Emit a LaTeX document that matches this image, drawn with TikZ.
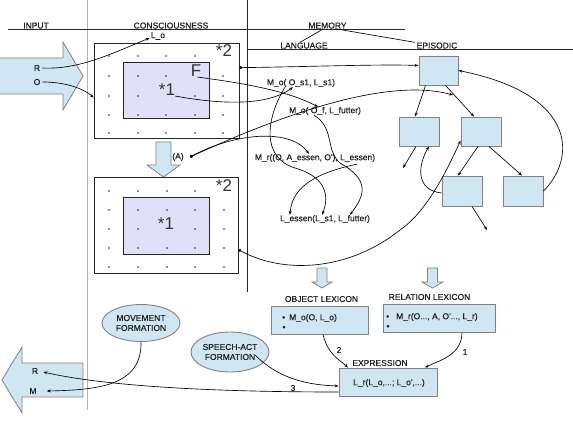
\documentclass[tikz,border=0pt]{standalone}
\usepackage{fontspec}
\setmainfont{Liberation Sans}
\newfontfamily\lblfont[FakeBold=0.35]{Liberation Sans}
\usetikzlibrary{arrows.meta,shapes.geometric}
\definecolor{boxblue}{RGB}{207,230,243}
\definecolor{bordergray}{RGB}{130,130,130}
\definecolor{lav}{RGB}{224,224,250}
\definecolor{txt}{RGB}{30,30,30}
\begin{document}
\begin{tikzpicture}[x=1pt,y=-1pt,
  lbl/.style={font=\lblfont\fontsize{8.5}{9.5}\selectfont,text=txt,inner sep=0pt},
  big/.style={font=\fontsize{17}{18}\selectfont,text=black!80,inner sep=0pt},
  conn/.style={-{Stealth[length=4pt,width=3pt]},line width=0.65pt},
  dconn/.style={{Circle[length=3pt]}-{Stealth[length=4pt,width=3pt]},line width=0.65pt},
  bluebox/.style={draw=bordergray,fill=boxblue,inner sep=0pt,line width=0.9pt},
  epibox/.style={bluebox,minimum width=40pt,minimum height=29pt},
  arrowshape/.style={draw=bordergray,fill=boxblue,line width=0.8pt},
  frame/.style={draw=black!85,line width=0.75pt,inner sep=0pt},
  ell/.style={ellipse,bluebox,font=\lblfont\fontsize{8.5}{10}\selectfont,text=txt,align=center},
  dotm/.style={fill=black!85}
]
\useasboundingbox (0,0) rectangle (573,422);
\fill[white] (0,0) rectangle (573,422);

% separators
\draw[gray!60,line width=0.6pt] (87,0) -- (87,410);
\draw[black!85,line width=0.75pt] (247,0) -- (247,292);
\draw[black!85,line width=0.75pt] (8,29) -- (405,29);
\draw[black!85,line width=0.75pt] (247,49) -- (573,49);

% headers
\node[lbl,anchor=base] (hIn) at (36,28.5) {INPUT};
\node[lbl,anchor=base] (hCon) at (171,28.5) {CONSCIOUSNESS};
\node[lbl,anchor=base] (hMem) at (327.5,28.5) {MEMORY};
\node[lbl,anchor=base] (hLang) at (304,48.5) {LANGUAGE};
\node[lbl,anchor=base] (hEpi) at (437,48.5) {EPISODIC};
\draw[line width=0.65pt] ([xshift=-4pt]hMem.south) -- ([xshift=-4pt]hLang.north);
\draw[line width=0.65pt] ([xshift=8pt]hMem.south) -- ([xshift=-22pt]hEpi.north);

% input / output arrows
\draw[arrowshape] (-1,58) -- (63,58) -- (63,42) -- (83,76) -- (63,110) -- (63,94) -- (-1,94) -- cycle;
\draw[arrowshape] (83,363) -- (22,363) -- (22,347) -- (2,380) -- (22,413) -- (22,397) -- (83,397) -- cycle;
\node[lbl] (inR) at (37,68) {R};
\node[lbl] (inO) at (37,82) {O};
\node[lbl] (outR) at (35,371) {R};
\node[lbl] (outM) at (33,391) {M};
\node[lbl] (Lo) at (158,36) {L\_o};

% consciousness boxes
\node[frame,minimum width=145pt,minimum height=95pt] (c2a) at (166.5,90.5) {};
\node[frame,fill=lav,minimum width=86pt,minimum height=56pt] (c1a) at (166,90) {};
\foreach \p in {(109,56),(138,56),(166,56),(195,56),
                (109,76),(138,76),(166,76),(223,76),
                (109,96),(138,96),(195,96),(223,96),
                (109,115),(138,115),(166,115),(195,115),(223,115),
                (109,133),(138,133),(166,133),(195,133),(223,133)}
  \fill[dotm] \p circle (0.8pt);
\node[big] (s2a) at (224,51) {*2};
\node[big] (Fa) at (196,71) {F};
\node[big] (s1a) at (167,90) {*1};

\draw[arrowshape] (156,142) -- (171,142) -- (171,165) -- (180,165) -- (163.5,177) -- (147,165) -- (156,165) -- cycle;

\node[frame,minimum width=144pt,minimum height=96pt] (c2b) at (166,225) {};
\node[frame,fill=lav,minimum width=86pt,minimum height=57pt] (c1b) at (166,225.5) {};
\foreach \p in {(109,191),(138,191),(167,191),(195,191),
                (109,210),(138,210),(167,210),(195,210),(224,210),
                (109,229),(138,229),(195,229),(224,229),
                (109,248),(138,248),(167,248),(195,248),(224,248),
                (109,267),(138,267),(167,267),(195,267),(224,267)}
  \fill[dotm] \p circle (0.8pt);
\node[big] (s2b) at (224,186) {*2};
\node[big] (s1b) at (166,224) {*1};

\node[lbl] (A) at (178,157) {(A)};
\coordinate (Adot) at (190,157);

% language texts
\node[lbl] (Mos1) at (301,83) {M\_o( O\_s1, L\_s1)};
\node[lbl] (Mof) at (325,111) {M\_o( O\_f, L\_futter)};
\node[lbl] (Mr) at (315,158) {M\_r((O, A\_essen, O'), L\_essen)};
\node[lbl] (Less) at (325,219) {L\_essen(L\_s1, L\_futter)};

% episodic boxes
\node[epibox,minimum width=39pt] (ep0) at (438.5,70.5) {};
\node[epibox] (ep1) at (419,131.5) {};
\node[epibox] (ep2) at (481,131.5) {};
\node[epibox,minimum height=30pt] (ep3) at (462,191) {};
\node[epibox,minimum height=30pt] (ep4) at (523,191) {};
\coordinate (f1) at (403,168);
\coordinate (f2) at (487,230);
\coordinate (epiIn) at (453,95);

% lexicons and expression
\draw[arrowshape] (317,268) -- (327,268) -- (327,282) -- (332,282) -- (322,288) -- (312,282) -- (317,282) -- cycle;
\draw[arrowshape] (427.5,268) -- (437.5,268) -- (437.5,282) -- (443,282) -- (432.5,288) -- (422,282) -- (427.5,282) -- cycle;
\node[lbl] (hObj) at (321.5,299) {OBJECT LEXICON};
\node[lbl] (hRel) at (429.5,297) {RELATION LEXICON};
\node[bluebox,minimum width=97pt,minimum height=28pt] (objlex) at (319.5,320) {};
\node[bluebox,minimum width=112pt,minimum height=28pt] (rellex) at (439,318) {};
\node[lbl,anchor=west] (objtxt) at (282,318) {•\hspace{4pt}M\_o(O, L\_o)};
\node[lbl] (objb2) at (284,328) {•};
\node[lbl,anchor=west] (reltxt) at (386,317) {•\hspace{7pt}M\_r(O..., A, O'..., L\_r)};
\node[lbl] (relb2) at (388,327) {•};
\node[lbl] (hExp) at (380,363) {EXPRESSION};
\node[bluebox,minimum width=98pt,minimum height=28pt] (expr) at (388,382) {};
\node[lbl] (exptxt) at (389,383) {L\_r(L\_o,...; L\_o',...)};

\node[ell,minimum width=78pt,minimum height=37pt] (move) at (141,323) {MOVEMENT\\FORMATION};
\node[ell,minimum width=78pt,minimum height=40pt] (speech) at (230,352) {SPEECH-ACT\\FORMATION};

% connectors: input
\draw[conn] ([xshift=2pt]inR.east) .. controls (80,70) and (115,52) .. ([xshift=-1pt,yshift=-2pt]Lo.west);
\draw[conn] ([xshift=2pt]inO.east) .. controls (60,82) and (80,86) .. ([yshift=-7pt]c2a.west);

% consciousness -> language / episodic
\path (c2a.north east) ++(0,25) coordinate (c2aR);
\draw[dconn] (c2aR) .. controls (300,67) and (380,64) .. ([yshift=5pt]ep0.west);
\draw[conn] ([xshift=-4pt]Fa.south east) .. controls (250,84) and (290,92) .. ([xshift=-7pt]Mof.north);
\draw[conn] (s1a.south east) .. controls (230,106) and (270,104) .. ([xshift=-8pt]Mos1.south);
\draw[dconn] (Adot) .. controls (235,133) and (290,128) .. ([xshift=-6pt]Mr.north);
\draw[dconn] (Adot) .. controls (260,125) and (380,75) .. (epiIn);

% language internal
\draw[conn] ([xshift=-16pt]Mos1.south) .. controls (265,120) and (262,158) .. (295,168) .. controls (330,178) and (328,200) .. ([xshift=-3pt]Less.north);
\draw[conn] ([xshift=-11pt]Mof.south) .. controls (335,128) and (325,150) .. (340,163) .. controls (370,180) and (365,195) .. ([xshift=25pt]Less.north);
\draw[conn] ([xshift=42pt,yshift=-2pt]Mr.south) .. controls (320,172) and (292,185) .. ([xshift=-35pt]Less.north);

% lower consciousness -> episodic
\path (c2b.north east) ++(0,73) coordinate (c2bR);
\draw[dconn] (c2bR) .. controls (285,275) and (350,270) .. (400,230) .. controls (425,213) and (445,175) .. ([yshift=-9pt]ep2.west);

% episodic
\draw[conn] ([xshift=-13pt]ep0.south) -- ([xshift=-4pt]ep1.north);
\draw[conn] ([xshift=7pt]ep0.south) -- ([xshift=-7pt]ep2.north);
\draw[conn] ([xshift=-3pt]ep2.south) -- ([xshift=-4pt]ep3.north);
\draw[conn] ([xshift=8pt]ep2.south) -- ([xshift=-1pt]ep4.north);
\draw[conn] ([xshift=-3pt]ep1.south) -- (f1);
\draw[conn] ([yshift=-2pt]ep3.west) .. controls (415,190) and (418,165) .. ([xshift=10pt]ep1.south);
\draw[conn] ([xshift=10pt]ep3.south) -- (f2);
\draw[conn] (ep4.east) .. controls (575,160) and (580,95) .. (ep0.east);

% expression
\draw[conn] ([xshift=3.5pt]objlex.south) .. controls (328,355) and (340,360) .. ([xshift=-40pt]expr.north);
\draw[conn] ([xshift=23pt]rellex.south) .. controls (462,355) and (440,360) .. ([xshift=37pt]expr.north);
\draw[conn] ([xshift=25pt,yshift=-3pt]speech.center) .. controls (280,380) and (310,385) .. ([yshift=-4pt]expr.west);
\draw[conn] ([yshift=-10pt]expr.west) .. controls (200,392) and (100,385) .. ([xshift=5pt,yshift=-1pt]outR.east);
\draw[conn] (move.south) .. controls (142,385) and (100,390) .. ([xshift=10pt]outM.east);
\node[lbl] (n2) at (339,350) {2};
\node[lbl] (n1) at (465,352) {1};
\node[lbl] (n3) at (293,388) {3};
\end{tikzpicture}
\end{document}
